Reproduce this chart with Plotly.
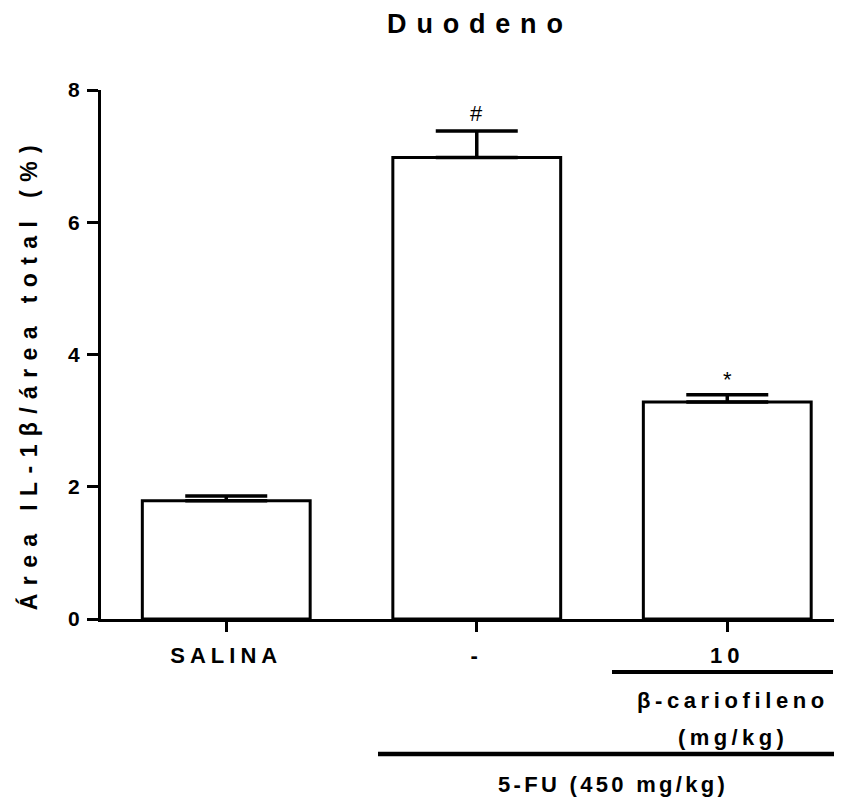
import plotly.graph_objects as go

# ---- data ----
categories = ["SALINA", "-", "10"]
means = [1.79, 6.98, 3.28]
errors = [0.07, 0.40, 0.11]
marks = ["", "#", "*"]
y_ticks = [0, 2, 4, 6, 8]

# page body has an 8px margin; work in screen pixels and convert
OFF = 8
SW, SH = 842, 802
W, H = SW - OFF, SH - OFF
PLOT_L, PLOT_R, PLOT_T, PLOT_B = 101, 842, 90, 619   # screen px
L, R = PLOT_L - OFF, (SW - PLOT_R)
T, B = PLOT_T - OFF, SH - PLOT_B
PW, PH = W - L - R, H - T - B


def px(xs):
    return (xs - OFF - L) / PW


def py(ys):
    return (H - B - (ys - OFF)) / PH


def spaced(s, ls):
    return f'<span style="letter-spacing:{ls}px">{s}</span>'


FONT = "Liberation Sans, Arial, sans-serif"

fig = go.Figure()
fig.add_trace(go.Bar(
    x=list(range(len(categories))),
    y=means,
    width=0.67,
    marker=dict(color="white", line=dict(color="black", width=3)),
    error_y=dict(type="data", symmetric=False, array=errors,
                 arrayminus=[0] * len(errors), color="black",
                 thickness=3.5, width=41),
    showlegend=False,
    hoverinfo="skip",
))

annotations = []
for i, (m, e, t) in enumerate(zip(means, errors, marks)):
    if t:
        annotations.append(dict(
            x=i, y=m + e, xref="x", yref="y", text=t, showarrow=False,
            yanchor="middle", yshift=18 if t == "#" else 15,
            font=dict(family=FONT, size=22, color="black")))

# y axis title
YLS = 8.4
annotations.append(dict(
    x=px(28), y=py(370 + YLS / 2), xref="paper", yref="paper",
    text=spaced("Área IL-1β/área total (%)", YLS), textangle=-90,
    showarrow=False, xanchor="center", yanchor="middle",
    font=dict(family=FONT, size=23, color="black", weight="bold")))

# group labels
for txt, cx, cy, ls in [("β-cariofileno", 731, 700, 4.6),
                        ("(mg/kg)", 731, 737, 4.4),
                        ("5-FU (450 mg/kg)", 611, 785, 3.3)]:
    annotations.append(dict(
        x=px(cx + ls / 2), y=py(cy), xref="paper", yref="paper",
        text=spaced(txt, ls), showarrow=False,
        xanchor="center", yanchor="middle",
        font=dict(family=FONT, size=22, color="black", weight="bold")))

shapes = [
    dict(type="line", xref="paper", yref="paper", x0=px(612), x1=px(833),
         y0=py(672), y1=py(672), line=dict(color="black", width=4)),
    dict(type="line", xref="paper", yref="paper", x0=px(378), x1=px(842),
         y0=py(754), y1=py(754), line=dict(color="black", width=4.5)),
]

TLS = 9.8
fig.update_layout(
    width=W, height=H,
    margin=dict(l=L, r=R, t=T, b=B, pad=0),
    plot_bgcolor="white", paper_bgcolor="white",
    title=dict(text=spaced("Duodeno", TLS), x=(475 + TLS / 2 - OFF) / W,
               xanchor="center", y=1 - (24 - OFF) / H, yanchor="middle",
               font=dict(family=FONT, size=27, color="black", weight="bold")),
    xaxis=dict(range=[-0.5, 2.458], tickvals=list(range(len(categories))),
               ticktext=[spaced(c, 5) for c in categories],
               showline=True, linecolor="black", linewidth=3,
               ticks="outside", ticklen=10, tickwidth=3, tickcolor="black",
               showgrid=False, zeroline=False, ticklabelstandoff=5,
               tickfont=dict(family=FONT, size=22, color="black", weight="bold")),
    yaxis=dict(range=[0, 8], tickvals=y_ticks,
               showline=True, linecolor="black", linewidth=3,
               ticks="outside", ticklen=11, tickwidth=3, tickcolor="black",
               showgrid=False, zeroline=False, ticklabelstandoff=3,
               tickfont=dict(family=FONT, size=21, color="black", weight="bold")),
    annotations=annotations,
    shapes=shapes,
)

fig.write_html("out.html")
